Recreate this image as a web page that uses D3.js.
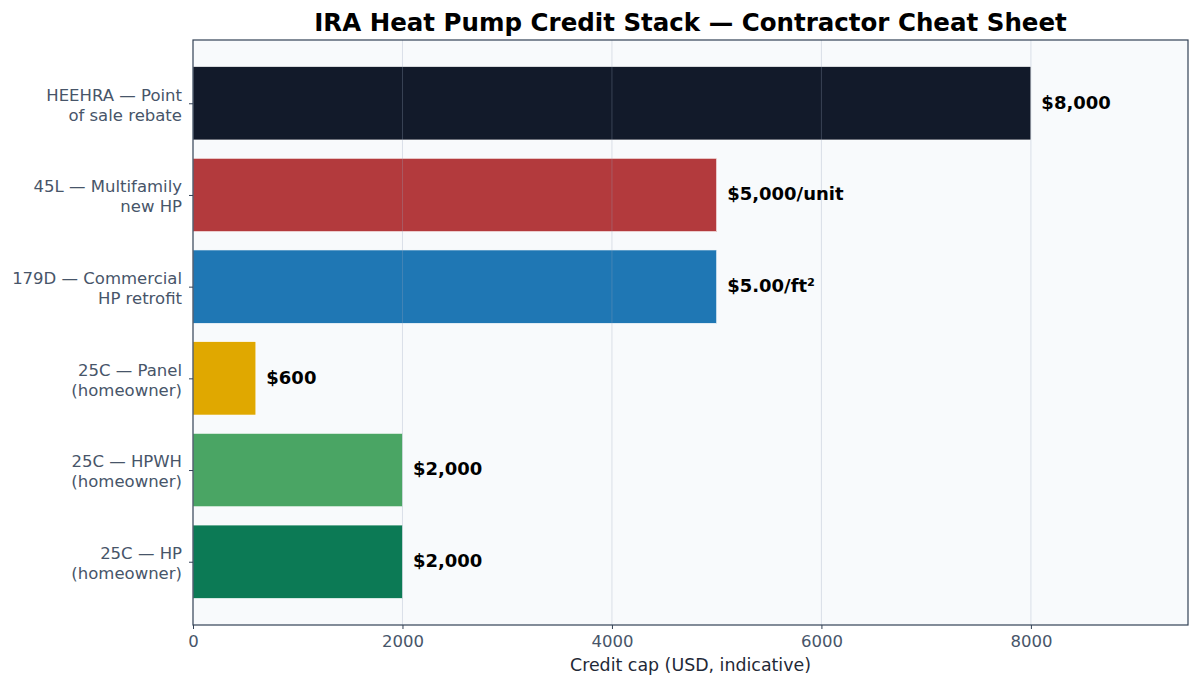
<!DOCTYPE html>
<html>
<head>
<meta charset="utf-8">
<script src="https://cdn.jsdelivr.net/npm/d3@7"></script>
<style>
  html, body { margin: 0; padding: 0; background: #ffffff; }
  svg { display: block; font-family: "DejaVu Sans", sans-serif; }
</style>
</head>
<body>
<svg id="chart" width="1200" height="688"></svg>
<script>
// bottom-to-top order, as plotted
var categories = [
  ["25C \u2014 HP", "(homeowner)"],
  ["25C \u2014 HPWH", "(homeowner)"],
  ["25C \u2014 Panel", "(homeowner)"],
  ["179D \u2014 Commercial", "HP retrofit"],
  ["45L \u2014 Multifamily", "new HP"],
  ["HEEHRA \u2014 Point", "of sale rebate"]
];
var values = [2000, 2000, 600, 5000, 5000, 8000];
var valueLabels = ["$2,000", "$2,000", "$600", "$5.00/ft\u00b2", "$5,000/unit", "$8,000"];
var barColors = ["#0c7a55", "#4aa564", "#e0a800", "#1f77b4", "#b33a3d", "#121a2a"];
var xTicks = [0, 2000, 4000, 6000, 8000];

var svg = d3.select("#chart");
var margin = {top: 40, right: 12, bottom: 63, left: 193};
var W = 1200, H = 688;
var iw = W - margin.left - margin.right;
var ih = H - margin.top - margin.bottom;

var g = svg.append("g").attr("transform", "translate(" + margin.left + "," + margin.top + ")");

var x = d3.scaleLinear().domain([0, 9500]).range([0, iw]);
// matplotlib style y: index positions with 0.8 bar height and 5% margins
var y = d3.scaleLinear().domain([-0.69, 5.69]).range([ih, 0]);
var barH = Math.abs(y(0.8) - y(0));

g.append("rect").attr("width", iw).attr("height", ih).attr("fill", "#f8fafc");

g.selectAll("rect.bar").data(values).enter().append("rect")
  .attr("class", "bar")
  .attr("x", x(0))
  .attr("y", function(d, i) { return y(i + 0.4); })
  .attr("width", function(d) { return x(d) - x(0); })
  .attr("height", barH)
  .attr("fill", function(d, i) { return barColors[i]; })
  .attr("stroke", "#ffffff").attr("stroke-width", 0.6);

// grid on top of bars, faint
g.selectAll("line.grid").data(xTicks.slice(1)).enter().append("line")
  .attr("class", "grid")
  .attr("x1", function(d) { return x(d); }).attr("x2", function(d) { return x(d); })
  .attr("y1", 0).attr("y2", ih)
  .attr("stroke", "#94a3b8").attr("stroke-opacity", 0.3).attr("stroke-width", 1);

g.selectAll("text.val").data(values).enter().append("text")
  .attr("class", "val")
  .attr("x", function(d) { return x(d + 100); })
  .attr("y", function(d, i) { return y(i); })
  .attr("dy", "0.3em")
  .attr("font-size", "18px").attr("font-weight", "bold").attr("fill", "#000000")
  .text(function(d, i) { return valueLabels[i]; });

// x axis
var xAxis = g.append("g").attr("transform", "translate(0," + ih + ")")
  .call(d3.axisBottom(x).tickValues(xTicks).tickFormat(d3.format("d")).tickSize(4).tickPadding(6));
xAxis.select(".domain").remove();
xAxis.selectAll(".tick line").attr("stroke", "#334155");
xAxis.selectAll(".tick text").attr("font-size", "16.5px").attr("fill", "#475569")
  .attr("font-family", "DejaVu Sans");

// y axis
var yAxis = g.append("g")
  .call(d3.axisLeft(y).tickValues(d3.range(categories.length)).tickFormat("").tickSize(4));
yAxis.select(".domain").remove();
yAxis.selectAll(".tick line").attr("stroke", "#334155");
yAxis.selectAll(".tick").each(function(d) {
  var t = d3.select(this).append("text")
    .attr("x", -11).attr("text-anchor", "end")
    .attr("font-size", "16.5px").attr("fill", "#475569").attr("font-family", "DejaVu Sans");
  t.append("tspan").attr("x", -11).attr("y", -9).attr("dy", "0.35em").text(categories[d][0]);
  t.append("tspan").attr("x", -11).attr("y", 11).attr("dy", "0.35em").text(categories[d][1]);
});

// spines
g.append("rect").attr("width", iw).attr("height", ih)
  .attr("fill", "none").attr("stroke", "#334155").attr("stroke-width", 1.2);

svg.append("text")
  .attr("x", margin.left + iw / 2).attr("y", 31)
  .attr("text-anchor", "middle")
  .attr("font-size", "24.5px").attr("font-weight", "bold").attr("fill", "#000000")
  .text("IRA Heat Pump Credit Stack \u2014 Contractor Cheat Sheet");

svg.append("text")
  .attr("x", margin.left + iw / 2).attr("y", 671)
  .attr("text-anchor", "middle")
  .attr("font-size", "17.4px").attr("fill", "#1f2937")
  .text("Credit cap (USD, indicative)");
</script>
</body>
</html>
